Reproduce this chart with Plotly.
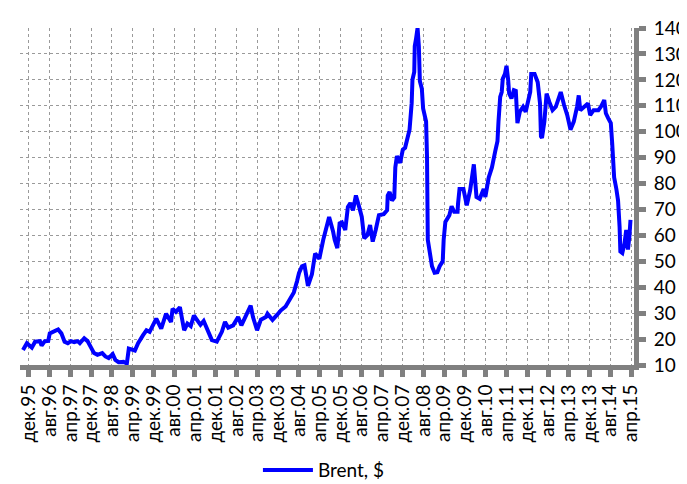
import pandas as pd
import plotly.graph_objects as go

dates = [
    "1995-09-23", "1995-11-08", "1996-01-05", "1996-02-12", "1996-04-09", "1996-04-28",
    "1996-06-06", "1996-07-15", "1996-08-02", "1996-09-30", "1996-11-08", "1996-12-16",
    "1997-01-23", "1997-03-02", "1997-04-09", "1997-05-16", "1997-06-25", "1997-07-21",
    "1997-09-10", "1997-10-19", "1997-11-26", "1998-01-03", "1998-02-12", "1998-04-09",
    "1998-05-16", "1998-06-24", "1998-08-10", "1998-09-10", "1998-10-18", "1998-12-15",
    "1999-01-23", "1999-02-15", "1999-04-27", "1999-06-04", "1999-08-01", "1999-09-10",
    "1999-10-17", "2000-01-03", "2000-03-01", "2000-04-27", "2000-06-24", "2000-07-12",
    "2000-08-20", "2000-10-06", "2000-11-25", "2001-01-02", "2001-02-10", "2001-03-19",
    "2001-04-26", "2001-06-04", "2001-07-12", "2001-09-09", "2001-10-16", "2001-12-13",
    "2002-02-10", "2002-03-19", "2002-04-26", "2002-06-23", "2002-08-20", "2002-09-27",
    "2002-11-24", "2003-01-14", "2003-02-10", "2003-03-30", "2003-05-14", "2003-07-11",
    "2003-07-30", "2003-09-27", "2003-11-24", "2004-01-01", "2004-02-28", "2004-04-25",
    "2004-06-03", "2004-07-11", "2004-08-03", "2004-09-07", "2004-10-06", "2004-11-16",
    "2005-01-01", "2005-02-08", "2005-03-29", "2005-05-14", "2005-06-21", "2005-07-22",
    "2005-09-07", "2005-09-25", "2005-10-26", "2005-11-22", "2005-12-19", "2006-01-27",
    "2006-02-27", "2006-03-28", "2006-04-28", "2006-06-01", "2006-07-09", "2006-08-09",
    "2006-09-06", "2006-10-15", "2006-11-14", "2006-12-15", "2007-01-19", "2007-02-26",
    "2007-04-23", "2007-06-02", "2007-06-09", "2007-07-01", "2007-07-29", "2007-08-25",
    "2007-09-06", "2007-09-25", "2007-11-02", "2007-12-03", "2007-12-30", "2008-01-26",
    "2008-02-20", "2008-03-16", "2008-03-25", "2008-04-15", "2008-04-21", "2008-05-05",
    "2008-05-24", "2008-06-08", "2008-06-20", "2008-07-13", "2008-07-28", "2008-09-01",
    "2008-09-12", "2008-09-21", "2008-10-14", "2008-11-09", "2008-12-10", "2009-01-11",
    "2009-02-07", "2009-03-15", "2009-03-26", "2009-04-15", "2009-06-01", "2009-06-27",
    "2009-07-28", "2009-09-05", "2009-09-10", "2009-09-28", "2009-11-13", "2009-12-22",
    "2010-01-30", "2010-02-25", "2010-03-15", "2010-04-15", "2010-05-23", "2010-07-08",
    "2010-07-28", "2010-09-05", "2010-10-13", "2010-11-21", "2010-12-17", "2010-12-29",
    "2011-01-18", "2011-02-05", "2011-02-17", "2011-03-15", "2011-04-02", "2011-04-22",
    "2011-05-03", "2011-05-30", "2011-06-27", "2011-07-20", "2011-08-08", "2011-09-05",
    "2011-10-13", "2011-11-13", "2011-12-10", "2012-01-05", "2012-01-17", "2012-02-25",
    "2012-04-02", "2012-04-29", "2012-05-10", "2012-05-22", "2012-06-19", "2012-07-15",
    "2012-08-16", "2012-09-23", "2012-10-31", "2012-12-01", "2012-12-28", "2013-02-05",
    "2013-03-14", "2013-04-21", "2013-05-30", "2013-07-07", "2013-07-27", "2013-08-14",
    "2013-09-23", "2013-11-12", "2013-12-08", "2014-01-17", "2014-03-14", "2014-04-13",
    "2014-05-22", "2014-06-10", "2014-07-07", "2014-08-07", "2014-08-23", "2014-09-04",
    "2014-09-15", "2014-10-11", "2014-10-31", "2014-11-18", "2014-11-27", "2014-12-20",
    "2015-01-15", "2015-02-04", "2015-02-24", "2015-03-13", "2015-03-26",
]

brent = [
    15.8, 18.4, 16.7, 19.0, 19.2, 17.5,
    19.2, 19.3, 22.2, 23.0, 23.7, 22.2,
    19.0, 18.4, 19.2, 18.8, 19.2, 18.4,
    20.3, 19.2, 16.5, 14.6, 13.9, 14.6,
    13.3, 12.7, 14.2, 12.0, 11.1, 11.2,
    10.6, 16.3, 15.6, 18.4, 21.5, 23.4,
    22.8, 27.9, 24.0, 29.8, 26.6, 31.7,
    30.5, 32.3, 23.4, 26.0, 25.0, 29.1,
    27.3, 25.5, 27.0, 22.8, 19.6, 19.0,
    22.8, 26.6, 24.4, 25.3, 28.5, 25.3,
    29.8, 32.9, 28.5, 23.4, 27.5, 28.5,
    29.8, 27.4, 29.5, 31.0, 32.6, 35.8,
    38.0, 42.4, 45.5, 48.1, 48.5, 40.5,
    45.0, 53.0, 51.0, 58.3, 62.7, 67.1,
    61.4, 58.3, 55.1, 64.6, 65.0, 62.1,
    71.0, 72.5, 69.7, 75.4, 71.0, 67.1,
    58.9, 60.2, 64.0, 57.6, 62.1, 67.8,
    68.2, 69.7, 75.4, 76.7, 73.5, 74.6,
    86.2, 90.6, 88.0, 93.1, 93.8, 97.6,
    100.8, 111.0, 120.0, 123.0, 133.0, 135.6,
    140.0, 133.0, 119.5, 116.6, 109.0, 103.9,
    90.0, 58.3, 53.2, 48.1, 45.6, 45.8,
    48.1, 50.0, 58.3, 65.2, 67.8, 71.2,
    69.1, 69.1, 72.0, 77.9, 77.9, 71.6,
    77.3, 83.6, 87.4, 74.8, 74.1, 77.9,
    74.8, 82.3, 86.2, 92.5, 96.3, 103.9,
    113.4, 115.3, 120.4, 122.3, 125.4, 119.8,
    114.7, 112.8, 116.0, 115.7, 103.3, 107.7,
    109.6, 107.7, 112.2, 115.3, 122.3, 122.3,
    119.1, 110.9, 98.2, 97.6, 103.9, 114.7,
    111.5, 108.3, 109.6, 112.2, 115.3, 110.3,
    106.4, 100.8, 103.9, 109.6, 114.0, 108.3,
    109.6, 110.9, 106.4, 108.3, 108.3, 109.6,
    112.2, 107.1, 105.2, 103.3, 95.7, 90.0,
    82.4, 77.9, 73.5, 63.3, 53.8, 53.2,
    57.0, 62.1, 54.5, 59.6, 66.0,
]

tick_labels = [
    "дек.95", "авг.96", "апр.97", "дек.97", "авг.98", "апр.99", "дек.99", "авг.00",
    "апр.01", "дек.01", "авг.02", "апр.03", "дек.03", "авг.04", "апр.05", "дек.05",
    "авг.06", "апр.07", "дек.07", "авг.08", "апр.09", "дек.09", "авг.10", "апр.11",
    "дек.11", "авг.12", "апр.13", "дек.13", "авг.14", "апр.15",
]
tick_dates = pd.date_range("1995-12-01", periods=len(tick_labels), freq="8MS")

FONT = "Lato, Open Sans, sans-serif"
GRAY = "#808080"

fig = go.Figure()
fig.add_trace(go.Scatter(
    x=pd.to_datetime(dates), y=brent, mode="lines", name="Brent, $",
    line=dict(color="#0000FF", width=4),
))

fig.update_layout(
    width=687, height=484,
    margin=dict(l=8, r=54, t=15, b=127),
    paper_bgcolor="white", plot_bgcolor="white",
    font=dict(family=FONT, size=19, color="black"),
    showlegend=True,
    legend=dict(
        orientation="h", x=0.495, xanchor="center",
        yref="container", y=0.045, yanchor="middle",
        font=dict(size=19), itemwidth=50,
    ),
)

fig.update_xaxes(
    type="date",
    range=["1995-08-19", "2015-05-06"],
    tickvals=tick_dates, ticktext=tick_labels, tickangle=-90,
    ticks="outside", ticklen=7, tickwidth=5, tickcolor=GRAY,
    showline=True, linewidth=5, linecolor=GRAY,
    showgrid=True, gridcolor="#9a9a9a", gridwidth=1, griddash="3px,3px",
    tickfont=dict(size=19),
)

fig.update_yaxes(
    side="right", range=[10, 140], tickvals=list(range(10, 141, 10)),
    ticks="outside", ticklen=7, tickwidth=5, tickcolor=GRAY,
    showline=True, linewidth=5, linecolor=GRAY,
    showgrid=True, gridcolor="#9a9a9a", gridwidth=1, griddash="3px,3px",
    zeroline=False, tickfont=dict(size=19), ticklabelstandoff=4,
)

fig.write_html("out.html")
